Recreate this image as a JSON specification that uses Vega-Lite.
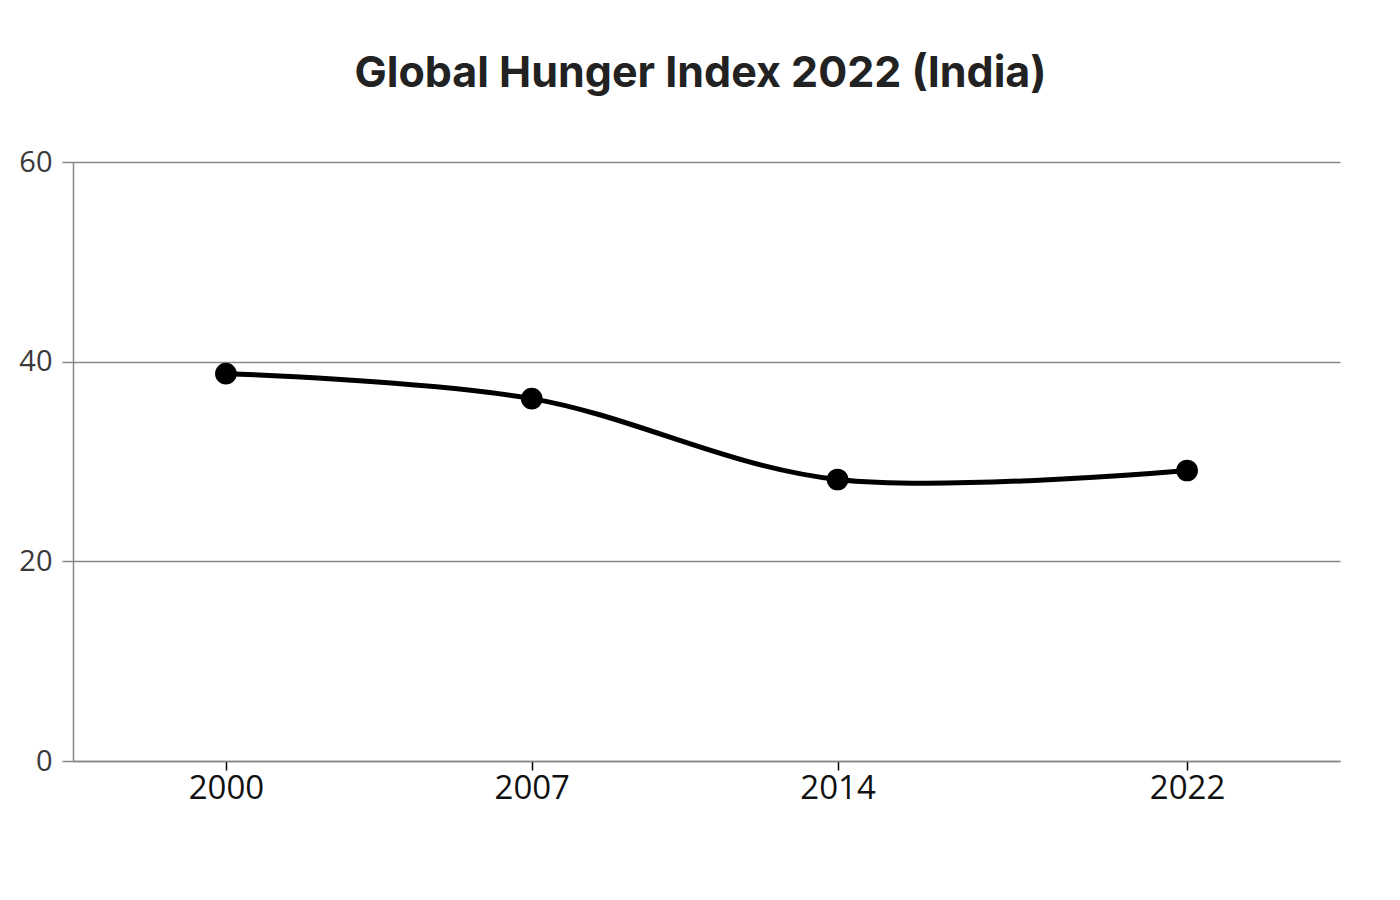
{
  "$schema": "https://vega.github.io/schema/vega-lite/v6.json",
  "width": 1267,
  "height": 599,
  "autosize": {"type": "none"},
  "padding": {"left": 73, "top": 162, "right": 60, "bottom": 139},
  "background": "white",
  "title": {
    "text": "Global Hunger Index 2022 (India)",
    "font": "Inter",
    "fontSize": 43,
    "fontWeight": "bold",
    "color": "#222222",
    "anchor": "middle",
    "dx": -6,
    "offset": 52
  },
  "config": {"view": {"stroke": null}},
  "data": {
    "values": [
      {"year": 2000, "ghi": 38.8},
      {"year": 2007, "ghi": 36.3},
      {"year": 2014, "ghi": 28.2},
      {"year": 2022, "ghi": 29.1}
    ]
  },
  "encoding": {
    "x": {
      "field": "year",
      "type": "quantitative",
      "scale": {"domain": [1996.5, 2025.5], "nice": false, "zero": false},
      "axis": {
        "title": null,
        "values": [2000, 2007, 2014, 2022],
        "format": "d",
        "grid": false,
        "domainColor": "#888888",
        "domainWidth": 1.5,
        "tickColor": "#000000",
        "tickSize": 9,
        "tickWidth": 1.5,
        "labelColor": "#111111",
        "labelFont": "Open Sans",
        "labelFontSize": 33,
        "labelPadding": 2
      }
    },
    "y": {
      "field": "ghi",
      "type": "quantitative",
      "scale": {"domain": [0, 60], "nice": false},
      "axis": {
        "title": null,
        "values": [0, 20, 40, 60],
        "grid": true,
        "gridColor": "#888888",
        "gridWidth": 1.5,
        "domainColor": "#888888",
        "domainWidth": 1.5,
        "tickColor": "#888888",
        "tickSize": 11,
        "tickWidth": 1.5,
        "labelColor": "#3a3a3a",
        "labelFont": "Open Sans",
        "labelFontSize": 29,
        "labelPadding": 10
      }
    }
  },
  "layer": [
    {
      "mark": {"type": "line", "interpolate": "cardinal", "color": "#000000", "strokeWidth": 5}
    },
    {
      "mark": {"type": "point", "filled": true, "color": "#000000", "opacity": 1, "size": 470}
    }
  ]
}
